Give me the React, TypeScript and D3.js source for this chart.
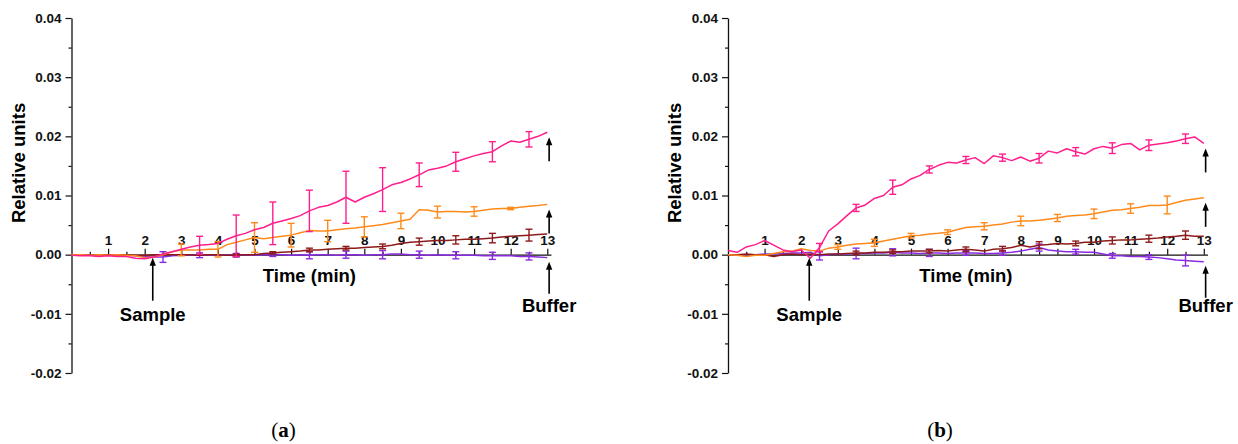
import React, { useRef, useEffect } from "react";
import * as d3 from "d3";

// sampling grid (min), shared by every trace
const TIME = [0, 0.25, 0.5, 0.75, 1, 1.25, 1.5, 1.75, 2, 2.25, 2.5, 2.75, 3, 3.25, 3.5, 3.75, 4, 4.25, 4.5, 4.75, 5, 5.25, 5.5, 5.75, 6, 6.25, 6.5, 6.75, 7, 7.25, 7.5, 7.75, 8, 8.25, 8.5, 8.75, 9, 9.25, 9.5, 9.75, 10, 10.25, 10.5, 10.75, 11, 11.25, 11.5, 11.75, 12, 12.25, 12.5, 12.75, 13];

const X_TICKS = [1, 2, 3, 4, 5, 6, 7, 8, 9, 10, 11, 12, 13];
const X_MINOR = [0.5, 1.5, 2.5, 3.5, 4.5, 5.5, 6.5, 7.5, 8.5, 9.5, 10.5, 11.5, 12.5];
const Y_TICKS = [0.04, 0.03, 0.02, 0.01, 0, -0.01, -0.02];
const Y_TICK_LABELS = ["0.04", "0.03", "0.02", "0.01", "0.00", "-0.01", "-0.02"];
const Y_MINOR = [0.035, 0.025, 0.015, 0.005, -0.005, -0.015];

const COLORS = { pink: "#ff1f8c", orange: "#ff8a1c", red: "#8e1b1b", purple: "#8a2be2" };

// ---- panel (a)
const A_PINK = [-0.0001, -0.0002, -0.0002, -0.0003, -0.0002, -0.0003, -0.0003, -0.0006, -0.0007, -0.0004, 0.0001, 0.0005, 0.0009, 0.0013, 0.0016, 0.0017, 0.0019, 0.0026, 0.0032, 0.0036, 0.0042, 0.0046, 0.0053, 0.0057, 0.0061, 0.0066, 0.0074, 0.008, 0.0083, 0.0089, 0.0097, 0.0089, 0.0097, 0.0103, 0.011, 0.0118, 0.0122, 0.0128, 0.0135, 0.0143, 0.0146, 0.015, 0.0157, 0.0162, 0.0167, 0.0171, 0.0174, 0.0184, 0.0192, 0.019, 0.0195, 0.02, 0.0207];
const A_ORANGE = [0, 0, -0.0001, 0, -0.0001, 0, -0.0001, -0.0002, -0.0005, -0.0004, 0, 0.0005, 0.0008, 0.0008, 0.0008, 0.0009, 0.0009, 0.0017, 0.0021, 0.0025, 0.0029, 0.0027, 0.0029, 0.0031, 0.0033, 0.0037, 0.0041, 0.004, 0.004, 0.0042, 0.0044, 0.0045, 0.0047, 0.0049, 0.0051, 0.0054, 0.0057, 0.006, 0.0076, 0.0075, 0.0072, 0.0073, 0.0073, 0.0072, 0.0073, 0.0075, 0.0077, 0.0078, 0.0078, 0.008, 0.0082, 0.0083, 0.0085];
const A_RED = [0, 0, -0.0001, 0, 0, -0.0001, 0, -0.0001, -0.0001, 0, 0, 0, 0, 0, -0.0001, 0, 0, -0.0001, -0.0001, 0, 0, 0.0002, 0.0003, 0.0004, 0.0005, 0.0006, 0.0008, 0.0008, 0.0009, 0.001, 0.0011, 0.0011, 0.0012, 0.0013, 0.0014, 0.0016, 0.0019, 0.0021, 0.0022, 0.0023, 0.0024, 0.0024, 0.0025, 0.0026, 0.0026, 0.0027, 0.0028, 0.003, 0.0031, 0.0032, 0.0033, 0.0034, 0.0035];
const A_PURPLE = [0, -0.0001, 0, -0.0001, 0, -0.0001, -0.0001, -0.0002, -0.0003, -0.0004, -0.0004, -0.0002, -0.0001, 0, -0.0001, 0, -0.0001, 0, -0.0001, 0, -0.0001, 0, 0, 0, -0.0001, 0, -0.0001, 0, 0, -0.0001, 0, 0, -0.0001, 0, 0, 0.0001, 0.0001, 0, 0, -0.0001, 0, -0.0001, -0.0001, -0.0001, -0.0001, -0.0002, -0.0002, -0.0002, -0.0002, -0.0003, -0.0003, -0.0004, -0.0005];

const A_PINK_ERR_T = [3.5, 4.5, 5.5, 6.5, 7.5, 8.5, 9.5, 10.5, 11.5, 12.5];
const A_PINK_ERR = [0.0015, 0.0035, 0.0036, 0.0035, 0.0044, 0.0037, 0.002, 0.0016, 0.0017, 0.0013];
const A_ORANGE_ERR_T = [3, 4, 5, 6, 7, 8, 9, 10, 11, 12];
const A_ORANGE_ERR = [0.001, 0.0013, 0.0025, 0.002, 0.0018, 0.0017, 0.0013, 0.001, 0.0008, 0.0002];
const A_RED_ERR_T = [4.5, 5.5, 6.5, 7.5, 8.5, 9.5, 10.5, 11.5, 12.5];
const A_RED_ERR = [0.0002, 0.0002, 0.0003, 0.0003, 0.0004, 0.0006, 0.0007, 0.0008, 0.001];
const A_PURPLE_ERR_T = [2.5, 3.5, 4.5, 5.5, 6.5, 7.5, 8.5, 9.5, 10.5, 11.5, 12.5];
const A_PURPLE_ERR = [0.0009, 0.0004, 0.0003, 0.0003, 0.0006, 0.0006, 0.0007, 0.0006, 0.0006, 0.0006, 0.0006];

// ---- panel (b)
const B_PINK = [0.0007, 0.0004, 0.0013, 0.0017, 0.0024, 0.0016, 0.0008, 0.0005, 0.0008, -0.0006, 0.0012, 0.004, 0.0052, 0.0066, 0.0079, 0.0084, 0.0095, 0.01, 0.0114, 0.0118, 0.0128, 0.0134, 0.0144, 0.0151, 0.0156, 0.0155, 0.016, 0.0164, 0.0154, 0.0167, 0.0164, 0.0159, 0.0165, 0.0158, 0.0163, 0.0175, 0.0172, 0.0179, 0.0174, 0.017, 0.0179, 0.0183, 0.018, 0.0186, 0.0188, 0.0177, 0.0185, 0.0187, 0.0189, 0.0192, 0.0196, 0.0199, 0.0188];
const B_ORANGE = [0, -0.0001, -0.0003, -0.0001, -0.0001, 0.0002, 0.0005, 0.0006, 0.001, 0.0007, 0.0006, 0.0011, 0.0013, 0.0016, 0.0018, 0.0019, 0.002, 0.0023, 0.0026, 0.0029, 0.0032, 0.0033, 0.0035, 0.0036, 0.0038, 0.0042, 0.0046, 0.0047, 0.0048, 0.005, 0.0052, 0.0055, 0.0057, 0.0057, 0.0058, 0.006, 0.0062, 0.0065, 0.0066, 0.0067, 0.0069, 0.0072, 0.0075, 0.0076, 0.0078, 0.008, 0.0083, 0.0083, 0.0084, 0.0088, 0.0092, 0.0094, 0.0096];
const B_RED = [0, 0, 0.0001, 0, 0, -0.0003, 0, 0.0001, 0, 0.0001, 0, 0.0001, 0.0001, 0.0002, 0.0003, 0.0003, 0.0004, 0.0004, 0.0005, 0.0005, 0.0006, 0.0006, 0.0006, 0.0007, 0.0006, 0.0008, 0.0009, 0.0008, 0.0006, 0.0009, 0.001, 0.0012, 0.0016, 0.0013, 0.0016, 0.0017, 0.0019, 0.0018, 0.0019, 0.0021, 0.0021, 0.0023, 0.0024, 0.0025, 0.0025, 0.0026, 0.0027, 0.0028, 0.003, 0.0031, 0.0033, 0.0031, 0.0031];
const B_PURPLE = [0, -0.0001, 0, 0, 0.0001, 0.0001, 0.0002, 0.0003, 0.0003, 0.0004, -0.0002, 0, 0.0001, 0.0001, 0.0002, 0.0002, 0.0003, 0.0003, 0.0004, 0.0003, 0.0003, 0.0002, 0.0003, 0.0003, 0.0002, 0.0003, 0.0003, 0.0003, 0.0002, 0.0002, 0.0003, 0.0004, 0.0006, 0.0009, 0.0012, 0.0008, 0.0006, 0.0005, 0.0005, 0.0004, 0.0004, 0.0001, -0.0002, -0.0002, -0.0003, -0.0003, -0.0004, -0.0005, -0.0007, -0.0009, -0.001, -0.0011, -0.0012];

const B_PINK_ERR_T = [2.5, 3.5, 4.5, 5.5, 6.5, 7.5, 8.5, 9.5, 10.5, 11.5, 12.5];
const B_PINK_ERR = [0.0007, 0.0006, 0.0012, 0.0006, 0.0006, 0.0006, 0.0008, 0.0007, 0.0009, 0.0009, 0.0008];
const B_ORANGE_ERR_T = [3, 4, 5, 6, 7, 8, 9, 10, 11, 12];
const B_ORANGE_ERR = [0.0004, 0.0006, 0.0004, 0.0004, 0.0006, 0.0008, 0.0006, 0.0008, 0.0008, 0.0015];
const B_RED_ERR_T = [3.5, 4.5, 5.5, 6.5, 7.5, 8.5, 9.5, 10.5, 11.5, 12.5];
const B_RED_ERR = [0.0003, 0.0003, 0.0003, 0.0004, 0.0004, 0.0006, 0.0004, 0.0006, 0.0006, 0.0007];
const B_PURPLE_ERR_T = [2.5, 3.5, 4.5, 5.5, 6.5, 7.5, 8.5, 9.5, 10.5, 11.5, 12.5];
const B_PURPLE_ERR = [0.0007, 0.0009, 0.0006, 0.0006, 0.0004, 0.0004, 0.0006, 0.0004, 0.0004, 0.0004, 0.0009];

const SAMPLE_T = 2.22;
const BUFFER_T = 13.05;

const PANELS = [
  {
    left: 71.5,
    tag: "a",
    series: [
      { values: A_PURPLE, color: COLORS.purple, errT: A_PURPLE_ERR_T, err: A_PURPLE_ERR },
      { values: A_RED, color: COLORS.red, errT: A_RED_ERR_T, err: A_RED_ERR },
      { values: A_ORANGE, color: COLORS.orange, errT: A_ORANGE_ERR_T, err: A_ORANGE_ERR },
      { values: A_PINK, color: COLORS.pink, errT: A_PINK_ERR_T, err: A_PINK_ERR },
    ],
  },
  {
    left: 728,
    tag: "b",
    series: [
      { values: B_PURPLE, color: COLORS.purple, errT: B_PURPLE_ERR_T, err: B_PURPLE_ERR },
      { values: B_RED, color: COLORS.red, errT: B_RED_ERR_T, err: B_RED_ERR },
      { values: B_ORANGE, color: COLORS.orange, errT: B_ORANGE_ERR_T, err: B_ORANGE_ERR },
      { values: B_PINK, color: COLORS.pink, errT: B_PINK_ERR_T, err: B_PINK_ERR },
    ],
  },
];

const FONT = "Arial, 'Liberation Sans', sans-serif";

function arrow(g, x, yHead, yTail) {
  g.append("line")
    .attr("x1", x).attr("x2", x)
    .attr("y1", yTail).attr("y2", yHead + 6)
    .attr("stroke", "black").attr("stroke-width", 1.6);
  g.append("path")
    .attr("d", `M${x},${yHead} L${x - 3.2},${yHead + 8} L${x + 3.2},${yHead + 8} Z`)
    .attr("fill", "black");
}

export default function App() {
  const svgRef = useRef(null);

  useEffect(() => {
    const svg = d3.select(svgRef.current);
    svg.selectAll("*").remove();

    const pxPerMin = 36.6;

    PANELS.forEach((p) => {
      const g = svg.append("g");
      const x = d3.scaleLinear().domain([0, 13.1]).range([p.left, p.left + 13.1 * pxPerMin]);
      const y = d3.scaleLinear().domain([-0.02, 0.04]).range([373, 18]);

      // y axis
      const yAxis = g.append("g")
        .attr("transform", `translate(${p.left},0)`)
        .call(
          d3.axisLeft(y)
            .tickValues(Y_TICKS)
            .tickFormat((d, i) => Y_TICK_LABELS[i])
            .tickSize(6)
            .tickPadding(4)
            .tickSizeOuter(0)
        );
      g.append("g")
        .attr("transform", `translate(${p.left},0)`)
        .call(d3.axisLeft(y).tickValues(Y_MINOR).tickFormat(() => "").tickSize(3).tickSizeOuter(0))
        .select(".domain").remove();

      // x axis on the zero line, labels above
      const xAxis = g.append("g")
        .attr("transform", `translate(0,${y(0)})`)
        .call(d3.axisTop(x).tickValues(X_TICKS).tickSize(6).tickPadding(4).tickSizeOuter(0));
      g.append("g")
        .attr("transform", `translate(0,${y(0)})`)
        .call(d3.axisTop(x).tickValues(X_MINOR).tickFormat(() => "").tickSize(3).tickSizeOuter(0))
        .select(".domain").remove();

      [yAxis, xAxis].forEach((a) => {
        a.selectAll("path, line").attr("stroke", "#111").attr("stroke-width", 1.3);
        a.selectAll("text")
          .attr("fill", "#111")
          .attr("font-family", FONT)
          .attr("font-weight", "bold")
          .attr("font-size", 13.5);
      });
      g.selectAll(".tick line").attr("stroke", "#111").attr("stroke-width", 1.2);

      // traces
      const line = d3.line()
        .x((d, i) => x(TIME[i]))
        .y((d) => y(d));

      p.series.forEach((s) => {
        g.append("path")
          .datum(s.values)
          .attr("fill", "none")
          .attr("stroke", s.color)
          .attr("stroke-width", 1.5)
          .attr("stroke-linejoin", "round")
          .attr("d", line);

        s.errT.forEach((t, k) => {
          const v = s.values[TIME.indexOf(t)];
          const cx = x(t);
          const y1 = y(v + s.err[k]);
          const y2 = y(v - s.err[k]);
          const eb = g.append("g").attr("stroke", s.color).attr("stroke-width", 1.4);
          eb.append("line").attr("x1", cx).attr("x2", cx).attr("y1", y1).attr("y2", y2);
          eb.append("line").attr("x1", cx - 3.5).attr("x2", cx + 3.5).attr("y1", y1).attr("y2", y1);
          eb.append("line").attr("x1", cx - 3.5).attr("x2", cx + 3.5).attr("y1", y2).attr("y2", y2);
        });
      });

      // axis titles
      g.append("text")
        .attr("transform", `translate(${p.left - 47},${y(0.0155)}) rotate(-90)`)
        .attr("text-anchor", "middle")
        .attr("font-family", FONT)
        .attr("font-weight", "bold")
        .attr("font-size", 18.5)
        .text("Relative units");
      g.append("text")
        .attr("x", x(6.5))
        .attr("y", y(0) + 27)
        .attr("text-anchor", "middle")
        .attr("font-family", FONT)
        .attr("font-weight", "bold")
        .attr("font-size", 18.5)
        .text("Time (min)");

      // sample injection arrow
      const sx = x(SAMPLE_T);
      arrow(g, sx, y(0) + 3, y(0) + 46);
      g.append("text")
        .attr("x", sx)
        .attr("y", y(0) + 66)
        .attr("text-anchor", "middle")
        .attr("font-family", FONT)
        .attr("font-weight", "bold")
        .attr("font-size", 18.5)
        .text("Sample");

      // buffer arrows under the ends of the pink, orange and purple traces
      const bx = x(BUFFER_T);
      const last = (arr) => arr[arr.length - 1];
      const pink = p.series[3].values;
      const orange = p.series[2].values;
      const purple = p.series[0].values;
      arrow(g, bx, y(last(pink)) + 5, y(last(pink)) + 29);
      arrow(g, bx, y(last(orange)) + 5, y(last(orange)) + 29);
      const yp = Math.max(y(last(purple)), y(0));
      arrow(g, bx, yp + 4, yp + 36);
      g.append("text")
        .attr("x", bx)
        .attr("y", y(0) + 57)
        .attr("text-anchor", "middle")
        .attr("font-family", FONT)
        .attr("font-weight", "bold")
        .attr("font-size", 18.5)
        .text("Buffer");

      // panel tag
      const tag = g.append("text")
        .attr("x", p.left + 212)
        .attr("y", 437)
        .attr("text-anchor", "middle")
        .attr("font-family", "'Liberation Serif', 'DejaVu Serif', serif")
        .attr("font-size", 21);
      tag.append("tspan").text("(");
      tag.append("tspan").attr("font-weight", "bold").text(p.tag);
      tag.append("tspan").text(")");
    });
  }, []);

  return (
    <svg
      ref={svgRef}
      width={1238}
      height={444}
      style={{ position: "absolute", left: 0, top: 0, background: "white" }}
    />
  );
}
